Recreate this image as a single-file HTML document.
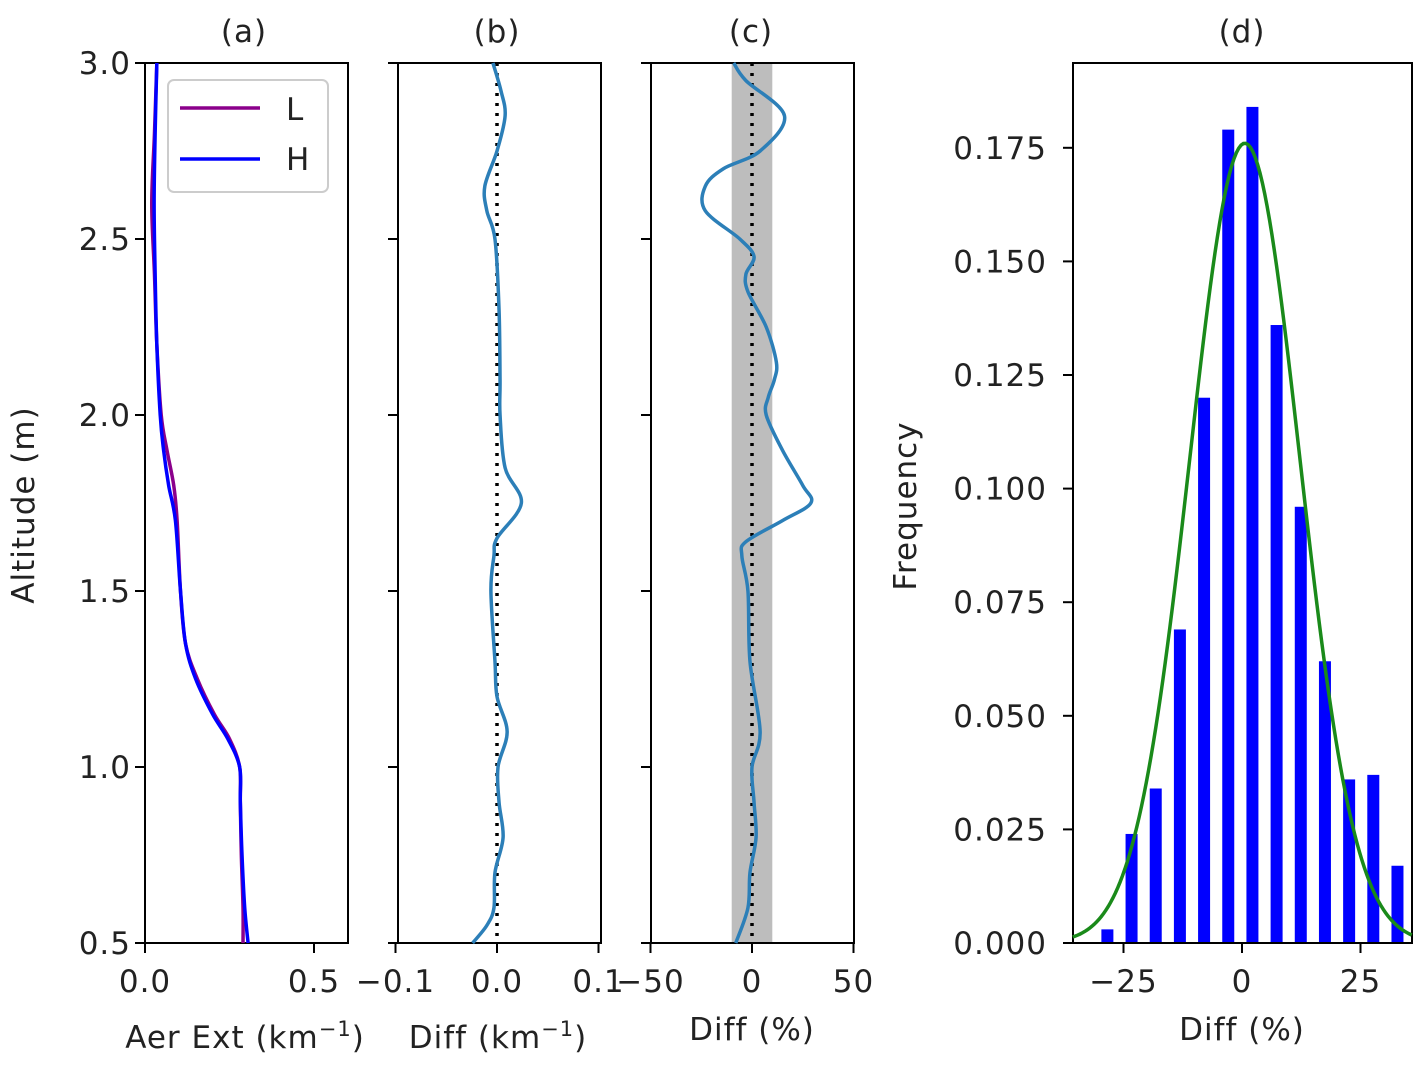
<!DOCTYPE html>
<html><head><meta charset="utf-8">
<style>
body{margin:0;background:#fff;}
svg{display:block;font-family:"DejaVu Sans","Liberation Sans",sans-serif;}
text{fill:#222;letter-spacing:1px;}
</style></head>
<body>
<svg id="fig" width="1423" height="1067" xmlns="http://www.w3.org/2000/svg"></svg>
<script>
// ---- data ----
const altA = [3.0,2.8,2.6,2.4,2.2,2.0,1.9,1.8,1.7,1.5,1.35,1.25,1.15,1.08,1.0,0.9,0.75,0.6,0.5];
const extH = [0.035,0.03,0.027,0.03,0.035,0.045,0.055,0.07,0.09,0.105,0.12,0.15,0.2,0.245,0.28,0.282,0.287,0.295,0.305];
const extL = [0.035,0.028,0.02,0.028,0.035,0.048,0.065,0.085,0.095,0.105,0.12,0.155,0.205,0.25,0.28,0.282,0.285,0.29,0.29];
const altB = [3.0,2.92,2.85,2.75,2.65,2.58,2.5,2.3,2.1,2.0,1.85,1.75,1.65,1.6,1.5,1.3,1.2,1.1,1.0,0.9,0.8,0.7,0.6,0.55,0.5];
const diffB = [-0.004,0.004,0.008,0.0,-0.012,-0.01,-0.002,0.002,0.003,0.003,0.008,0.024,0.0,-0.003,-0.006,-0.002,0.0,0.01,0.001,0.002,0.006,-0.002,-0.003,-0.01,-0.024];
const altC = [3.0,2.95,2.85,2.75,2.7,2.65,2.58,2.5,2.45,2.4,2.35,2.25,2.15,2.1,2.05,2.0,1.9,1.8,1.75,1.7,1.64,1.6,1.5,1.3,1.1,1.0,0.9,0.8,0.7,0.6,0.5];
const diffC = [-9,-3,16,4,-14,-23,-23,-6,1,-3,-2,7,12,11,8,7,15,25,29,15,-3,-5,-2,-1,4,0,1,2,-1,-2,-8];
const binCenters = [-28.4,-23.3,-18.2,-13.1,-8.0,-2.9,2.2,7.3,12.4,17.5,22.6,27.7,32.8];
const binFreq = [0.003,0.024,0.034,0.069,0.120,0.179,0.184,0.136,0.096,0.062,0.036,0.037,0.017];
const fitMean = 0.6, fitSigma = 11.6, fitAmp = 0.176;
const altTicks = [0.5,1.0,1.5,2.0,2.5,3.0];
const aTicks = [0.0,0.5], bTicks=[-0.1,0.0,0.1], cTicks=[-50,0,50], dxTicks=[-25,0,25];
const dyTicks = [0,0.025,0.05,0.075,0.1,0.125,0.15,0.175];

const NS="http://www.w3.org/2000/svg", svg=document.getElementById('fig');
const FS=31;
function el(tag, attrs, parent){const e=document.createElementNS(NS,tag);for(const k in attrs)e.setAttribute(k,attrs[k]);(parent||svg).appendChild(e);return e;}
function txt(x,y,s,anchor,size,parent){const t=el('text',{x:x,y:y,'text-anchor':anchor||'middle','font-size':size||FS},parent);t.textContent=s;return t;}
const Y0=943,Y1=63;
const yAlt=v=>Y0+(v-0.5)*(Y1-Y0)/2.5;
function smooth(pts){let d='M'+pts[0][0]+','+pts[0][1];for(let i=0;i<pts.length-1;i++){const p0=pts[Math.max(i-1,0)],p1=pts[i],p2=pts[i+1],p3=pts[Math.min(i+2,pts.length-1)];d+=' C'+(p1[0]+(p2[0]-p0[0])/6)+','+(p1[1]+(p2[1]-p0[1])/6)+' '+(p2[0]-(p3[0]-p1[0])/6)+','+(p2[1]-(p3[1]-p1[1])/6)+' '+p2[0]+','+p2[1];}return d;}
function frame(x0,x1,name){const g=el('g',{});el('rect',{x:x0,y:Y1,width:x1-x0,height:Y0-Y1,fill:'none',stroke:'#000','stroke-width':2},g);return g;}
function yticks(g,x0,labels){altTicks.forEach(v=>{el('line',{x1:x0-10,x2:x0,y1:yAlt(v),y2:yAlt(v),stroke:'#000','stroke-width':2},g);if(labels)txt(x0-14,yAlt(v)+11,v.toFixed(1),'end',FS,g);});}
function xticks(g,ticks,sx,fmt){ticks.forEach(v=>{el('line',{x1:sx(v),x2:sx(v),y1:Y0,y2:Y0+10,stroke:'#000','stroke-width':2},g);txt(sx(v),Y0+49,fmt(v),'middle',FS,g);});}

// (a)
const xa=v=>145+v*338;
let g=frame(145,348,'panel-a');
yticks(g,145,true);xticks(g,aTicks,xa,v=>v.toFixed(1));
el('path',{d:smooth(altA.map((a,i)=>[xa(extL[i]),yAlt(a)])),fill:'none',stroke:'#8b008b','stroke-width':3.5},g);
el('path',{d:smooth(altA.map((a,i)=>[xa(extH[i]),yAlt(a)])),fill:'none',stroke:'#0000ff','stroke-width':3.5},g);
const lg=el('g',{},g);
el('rect',{x:168,y:80,width:160,height:112,rx:6,fill:'#fff',stroke:'#ccc','stroke-width':2},lg);
el('line',{x1:180,x2:260,y1:108,y2:108,stroke:'#8b008b','stroke-width':3.5},lg);txt(286,120,'L','start',FS,lg);
el('line',{x1:180,x2:260,y1:159,y2:159,stroke:'#0000ff','stroke-width':3.5},lg);txt(286,170,'H','start',FS,lg);
txt(244,42,'(a)','middle',FS,g);
const yl=txt(34,505,'Altitude (m)','middle',FS,g);yl.setAttribute('transform','rotate(-90 34 505)');
const xla=el('text',{x:245,y:1048,'text-anchor':'middle','font-size':FS},g);xla.innerHTML='Aer Ext (km<tspan dy="-12" font-size="21">−1</tspan><tspan dy="12">)</tspan>';

// (b)
const xb=v=>497+v*1015;
g=frame(398,601,'panel-b');yticks(g,398,false);xticks(g,bTicks,xb,v=>v===0?'0.0':(v<0?'−0.1':'0.1'));
el('line',{x1:xb(0),x2:xb(0),y1:Y1,y2:Y0,stroke:'#000','stroke-width':3.5,'stroke-dasharray':'3,7'},g);
el('path',{d:smooth(altB.map((a,i)=>[xb(diffB[i]),yAlt(a)])),fill:'none',stroke:'#2c7fb8','stroke-width':3.5},g);
txt(497,42,'(b)','middle',FS,g);
const xlb=el('text',{x:498,y:1048,'text-anchor':'middle','font-size':FS},g);xlb.innerHTML='Diff (km<tspan dy="-12" font-size="21">−1</tspan><tspan dy="12">)</tspan>';

// (c)
const xc=v=>752+v*2.03;
g=frame(651,854,'panel-c');
el('rect',{x:xc(-10),y:Y1,width:xc(10)-xc(-10),height:Y0-Y1,fill:'#bdbdbd'},g);
el('rect',{x:651,y:Y1,width:203,height:Y0-Y1,fill:'none',stroke:'#000','stroke-width':2},g);
yticks(g,651,false);xticks(g,cTicks,xc,v=>v<0?'−50':String(v));
el('line',{x1:xc(0),x2:xc(0),y1:Y1,y2:Y0,stroke:'#000','stroke-width':3.5,'stroke-dasharray':'3,7'},g);
el('path',{d:smooth(altC.map((a,i)=>[xc(diffC[i]),yAlt(a)])),fill:'none',stroke:'#2c7fb8','stroke-width':3.5},g);
txt(751,42,'(c)','middle',FS,g);txt(752,1040,'Diff (%)','middle',FS,g);

// (d)
const xd=v=>1242+v*4.74, yd=v=>943-v*4544;
g=frame(1073,1412,'panel-d');
binCenters.forEach((c,i)=>{const b=el('rect',{x:xd(c)-6,y:yd(binFreq[i]),width:12,height:943-yd(binFreq[i]),fill:'#0000ff'},g);});
el('rect',{x:1073,y:Y1,width:339,height:Y0-Y1,fill:'none',stroke:'#000','stroke-width':2},g);
let fp=[];for(let x=-35.7;x<=35.9;x+=0.5)fp.push([xd(x),yd(fitAmp*Math.exp(-((x-fitMean)**2)/(2*fitSigma*fitSigma)))]);
el('path',{d:'M'+fp.map(p=>p.join(',')).join(' L'),fill:'none',stroke:'#1a8a1a','stroke-width':3.5},g);
dyTicks.forEach(v=>{el('line',{x1:1063,x2:1073,y1:yd(v),y2:yd(v),stroke:'#000','stroke-width':2},g);txt(1047,yd(v)+11,v.toFixed(3),'end',FS,g);});
xticks(g,dxTicks,xd,v=>v<0?'−25':String(v));
txt(1242,42,'(d)','middle',FS,g);txt(1242,1040,'Diff (%)','middle',FS,g);
const fl=txt(916,506,'Frequency','middle',FS,g);fl.setAttribute('transform','rotate(-90 916 506)');
</script>
</body></html>
